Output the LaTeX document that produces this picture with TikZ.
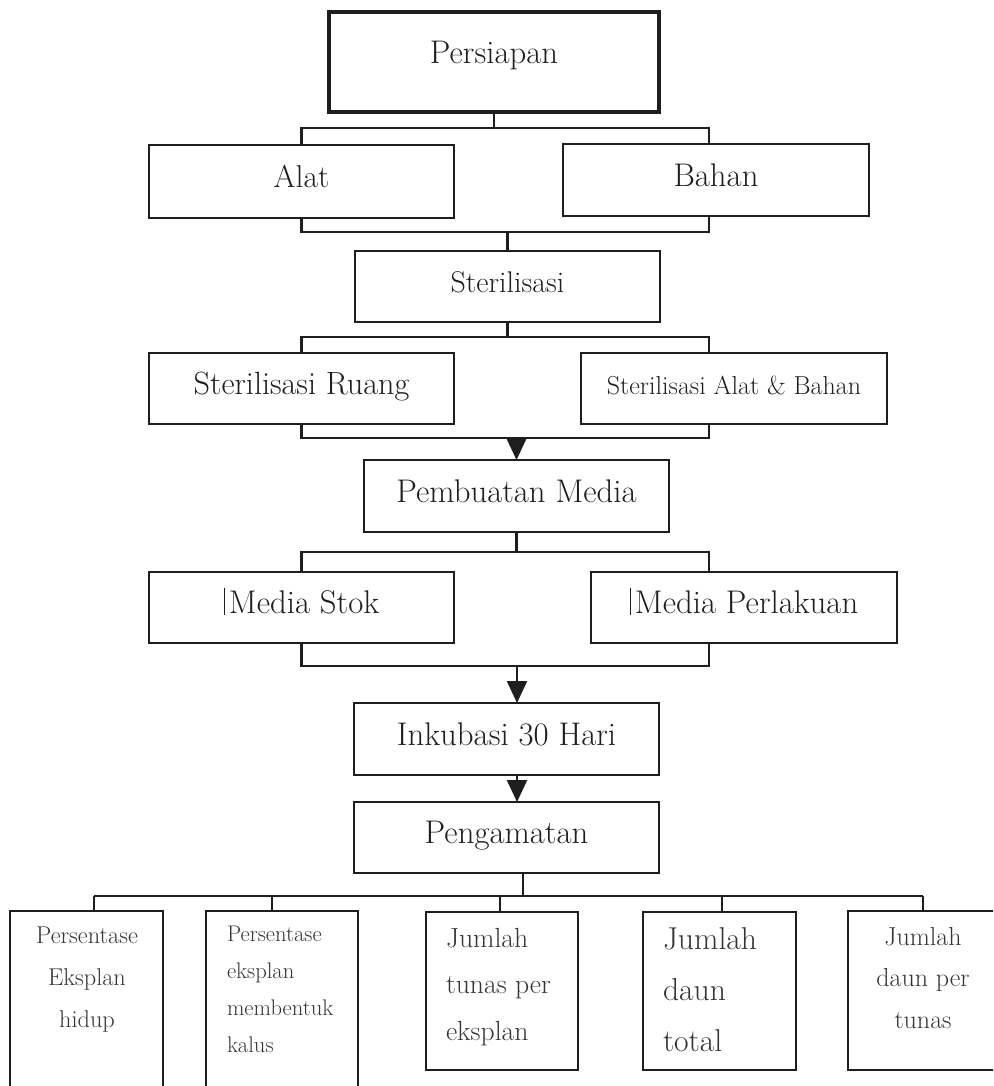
\documentclass[tikz,border=0pt]{standalone}
\usepackage{fontspec}
\setmainfont{Latin Modern Roman}[Scale=1.13]
\usetikzlibrary{arrows.meta}
\definecolor{ink}{HTML}{1E1E1E}
\definecolor{txt}{HTML}{1F1F1F}
\definecolor{txtb}{HTML}{353535}
\newcommand{\curbar}{\rule[-1pt]{1.2pt}{27pt}\hspace{4pt}}
\begin{document}
\begin{tikzpicture}[x=1pt,y=-1pt,
  box/.style={draw=ink, line width=2.4pt, inner sep=0pt, outer sep=0pt, anchor=north west,
    text=txt, font=\fontsize{29}{34}\selectfont, text height=20pt, text depth=8pt},
  wh/.style 2 args={minimum width=#1pt, minimum height=#2pt},
  conn/.style={draw=ink, line width=2.3pt},
  arr/.style={conn, -{Triangle[length=22pt,width=20pt]}},
  btxt/.style={inner sep=0pt, outer sep=0pt, text=txtb}
]
\useasboundingbox (0,0) rectangle (993,1086);
\clip (0,0) rectangle (993,1086);

% main column
\node[box, wh={330}{100}, line width=4.6pt, text depth=16pt] (pers) at (329,12) {Persiapan};
\node[box, wh={305}{73}, font=\fontsize{28}{34}\selectfont] (alat) at (149,145) {Alat};
\node[box, wh={306}{72}] (bahan) at (563,144) {Bahan};
\node[box, wh={305}{71}, font=\fontsize{26.5}{32}\selectfont] (steril) at (355,251) {Sterilisasi};
\node[box, wh={305}{71}, font=\fontsize{28.5}{34}\selectfont] (ruang) at (149,353) {Sterilisasi Ruang};
\node[box, wh={306}{71}, font=\fontsize{23}{28}\selectfont] (alatbahan) at (581,353) {Sterilisasi Alat \& Bahan};
\node[box, wh={305}{72}] (pemb) at (364,460) {Pembuatan Media};
\node[box, wh={305}{71}] (stok) at (149,572) {\curbar Media Stok};
\node[box, wh={306}{71}] (perl) at (591,572) {\curbar Media Perlakuan};
\node[box, wh={305}{72}] (inkub) at (354,703) {Inkubasi 30 Hari};
\node[box, wh={305}{71}] (amat) at (354,802) {Pengamatan};

% bottom row boxes
\node[box, wh={153}{260}] (b1) at (10,911) {};
\node[box, wh={152}{260}] (b2) at (206,911) {};
\node[box, wh={152}{158}] (b3) at (426,912) {};
\node[box, wh={153}{158}] (b4) at (643,912) {};
\node[box, wh={200}{159}] (b5) at (848,911) {};

% bottom row texts
\node[btxt, anchor=north, align=center, font=\fontsize{21.5}{42}\selectfont] (t1) at (87,927) {Persentase\\Eksplan\\hidup};
\node[btxt, anchor=north west, align=left, font=\fontsize{20}{37}\selectfont] (t2) at (227,926) {Persentase\\eksplan\\membentuk\\kalus};
\node[btxt, anchor=north west, align=left, font=\fontsize{24.5}{46.5}\selectfont] (t3) at (446,928) {Jumlah\\tunas per\\eksplan};
\node[btxt, anchor=north west, align=left, font=\fontsize{28}{51}\selectfont] (t4) at (663,928) {Jumlah\\daun\\total};
\node[btxt, anchor=north, align=center, font=\fontsize{23}{41.5}\selectfont] (t5) at (923,927) {Jumlah\\daun per\\tunas};

% connector columns
\coordinate (rx) at (709,0);
\coordinate (cx) at (517,0);

% Persiapan -> Alat / Bahan
\draw[conn] (pers.south) -- (pers.south |- 0,128);
\draw[conn] (alat.north) |- (rx |- 0,128) -- (bahan.north -| rx);
% Alat / Bahan -> Sterilisasi
\draw[conn] (alat.south) |- (rx |- 0,232) -- (bahan.south -| rx);
\draw[conn] (steril.north |- 0,232) -- (steril.north);
% Sterilisasi -> Ruang / Alat & Bahan
\draw[conn] (steril.south) -- (steril.south |- 0,337);
\draw[conn] (ruang.north) |- (rx |- 0,337) -- (alatbahan.north -| rx);
% Ruang / Alat & Bahan -> Pembuatan Media
\draw[conn] (ruang.south) |- (rx |- 0,438) -- (alatbahan.south -| rx);
\draw[arr] (pemb.north |- 0,438) -- (pemb.north);
% Pembuatan Media -> Media Stok / Perlakuan
\draw[conn] (pemb.south) -- (pemb.south |- 0,552);
\draw[conn] (stok.north) |- (rx |- 0,552) -- (perl.north -| rx);
% Media -> Inkubasi
\draw[conn] (stok.south) |- (rx |- 0,666) -- (perl.south -| rx);
\draw[arr] (cx |- 0,666) -- (inkub.north -| cx);
% Inkubasi -> Pengamatan
\draw[arr] (inkub.south -| cx) -- (amat.north -| cx);
% Pengamatan -> observations
\coordinate (h1) at (94,896);
\coordinate (h2) at (272,896);
\coordinate (h3) at (500,896);
\coordinate (h4) at (722,896);
\coordinate (h5) at (923,896);
\draw[conn] (amat.south -| 523,0) -- (523,896);
\draw[conn] (h1) -- (h5);
\draw[conn] (h1) -- (b1.north -| h1);
\draw[conn] (h2) -- (b2.north -| h2);
\draw[conn] (h3) -- (b3.north -| h3);
\draw[conn] (h4) -- (b4.north -| h4);
\draw[conn] (h5) -- (b5.north -| h5);
\end{tikzpicture}
\end{document}
